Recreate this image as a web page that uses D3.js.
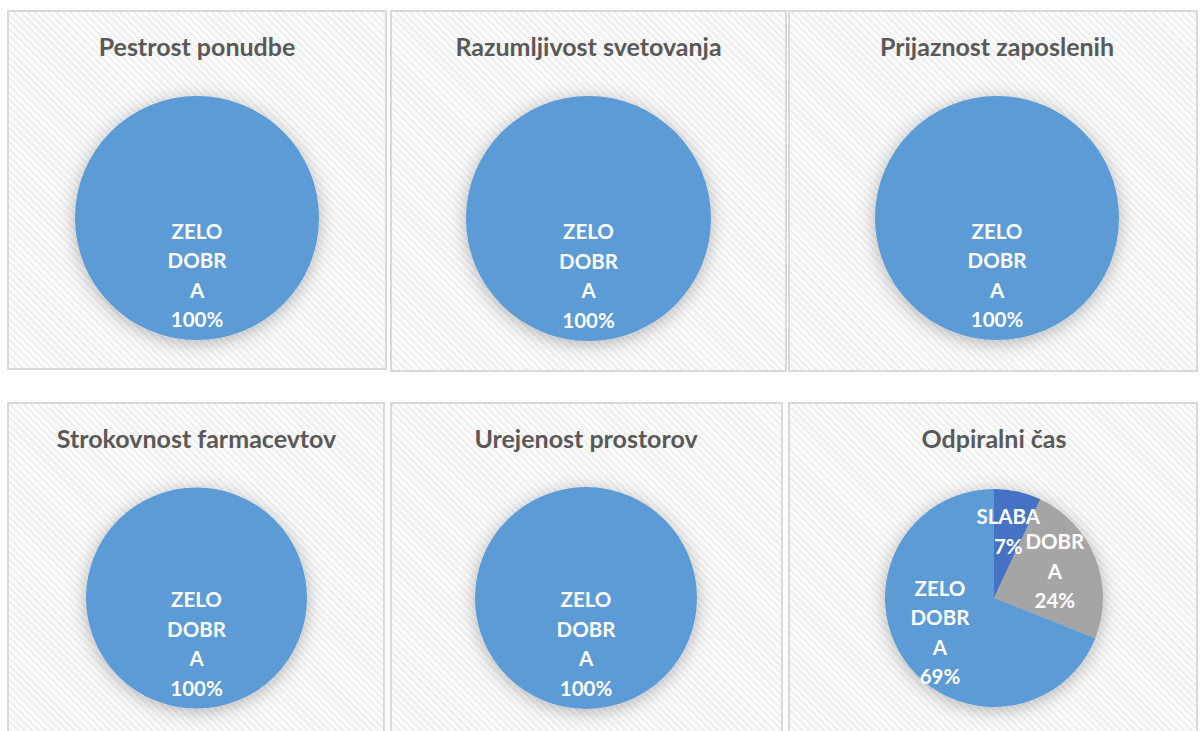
<!DOCTYPE html>
<html><head><meta charset="utf-8">
<script src="https://cdn.jsdelivr.net/npm/d3@7"></script>
<style>body{margin:0;background:#fff;overflow:hidden} svg{display:block}</style>
</head><body>
<svg id="c" width="1200" height="731"></svg>
<script>
// ---- data ----
const categories = ["SLABA", "DOBRA", "ZELO DOBRA"];
const colors = ["#4472c4", "#a5a5a5", "#5b9bd5"];
const titles = ["Pestrost ponudbe", "Razumljivost svetovanja", "Prijaznost zaposlenih",
                "Strokovnost farmacevtov", "Urejenost prostorov", "Odpiralni čas"];
const pestrostPonudbe = [0, 0, 100];
const razumljivostSvetovanja = [0, 0, 100];
const prijaznostZaposlenih = [0, 0, 100];
const strokovnostFarmacevtov = [0, 0, 100];
const urejenostProstorov = [0, 0, 100];
const odpiralniCas = [7, 24, 69];
const series = [pestrostPonudbe, razumljivostSvetovanja, prijaznostZaposlenih,
                strokovnostFarmacevtov, urejenostProstorov, odpiralniCas];

// ---- layout ----
const panels = [
  {x: 8,   y: 11,  w: 378, h: 358, cx: 197,   cy: 218,   r: 122,   lf: 0.475},
  {x: 391, y: 11,  w: 395, h: 360, cx: 588.5, cy: 218.5, r: 122.5, lf: 0.475},
  {x: 789, y: 11,  w: 408, h: 360, cx: 997,   cy: 218,   r: 122,   lf: 0.475},
  {x: 8,   y: 403, w: 376, h: 340, cx: 196.5, cy: 598,   r: 110.5, lf: 0.42},
  {x: 391, y: 403, w: 391, h: 340, cx: 586,   cy: 598,   r: 111,   lf: 0.42},
  {x: 789, y: 403, w: 408, h: 340, cx: 994,   cy: 598,   r: 109,   lf: 0.42}
];

const svg = d3.select("#c");
const defs = svg.append("defs");
const pat = defs.append("pattern").attr("id", "hatch").attr("patternUnits", "userSpaceOnUse")
  .attr("width", 5).attr("height", 5).attr("patternTransform", "rotate(-45)");
pat.append("rect").attr("width", 5).attr("height", 5).attr("fill", "#fcfcfc");
pat.append("rect").attr("width", 2.2).attr("height", 5).attr("fill", "#eeeeee");
const f = defs.append("filter").attr("id", "sh").attr("x", "-40%").attr("y", "-40%")
  .attr("width", "180%").attr("height", "180%");
f.append("feDropShadow").attr("dx", 0).attr("dy", 3).attr("stdDeviation", 9)
  .attr("flood-color", "#000").attr("flood-opacity", 0.28);

const pie = d3.pie().sort(null).value(d => d.v);
const fmt = d3.format(".0%");

panels.forEach((p, i) => {
  const g = svg.append("g");
  g.append("rect").attr("x", p.x).attr("y", p.y).attr("width", p.w).attr("height", p.h)
    .attr("fill", "url(#hatch)").attr("stroke", "#d9d9d9").attr("stroke-width", 2);
  g.append("text").attr("x", p.cx).attr("y", p.y + 45).attr("text-anchor", "middle")
    .attr("font-family", "Lato, 'Open Sans', sans-serif").attr("font-weight", 700)
    .attr("font-size", 25).attr("fill", "#595959").text(titles[i]);

  const data = categories.map((c, k) => ({c, v: series[i][k], col: colors[k]}));
  const total = d3.sum(data, d => d.v);
  const arcs = pie(data).filter(a => a.data.v > 0);
  const arc = d3.arc().innerRadius(0).outerRadius(p.r);
  const pg = g.append("g").attr("transform", `translate(${p.cx},${p.cy})`);
  pg.append("g").attr("filter", "url(#sh)").selectAll("path").data(arcs).join("path")
    .attr("d", arc).attr("fill", d => d.data.col);

  const lineH = 29.5, maxW = 66;
  arcs.forEach(a => {
    const full = a.data.v === total;
    const lr = full ? p.r * p.lf : p.r * 0.6;
    const la = d3.arc().innerRadius(lr).outerRadius(lr);
    const [lx, ly] = la.centroid(a);
    const t = pg.append("text").attr("text-anchor", "middle")
      .attr("font-family", "Lato, 'Open Sans', sans-serif").attr("font-weight", 700)
      .attr("font-size", 20.5).attr("fill", "#fff");
    // wrap name to max width (character-level like the original)
    const lines = [];
    const probe = t.append("tspan");
    const fits = s => { probe.text(s); return probe.node().getComputedTextLength() <= maxW; };
    a.data.c.split(" ").forEach(word => {
      let cur = "";
      for (const ch of word) {
        if (cur && !fits(cur + ch)) { lines.push(cur); cur = ch; } else cur += ch;
      }
      lines.push(cur);
    });
    probe.remove();
    lines.push(fmt(a.data.v / total));
    const y0 = ly - (lines.length - 1) * lineH / 2 + (full ? 7 : 5);
    lines.forEach((s, k) => t.append("tspan").attr("x", lx).attr("y", y0 + k * lineH).text(s));
  });
});
</script>
</body></html>
